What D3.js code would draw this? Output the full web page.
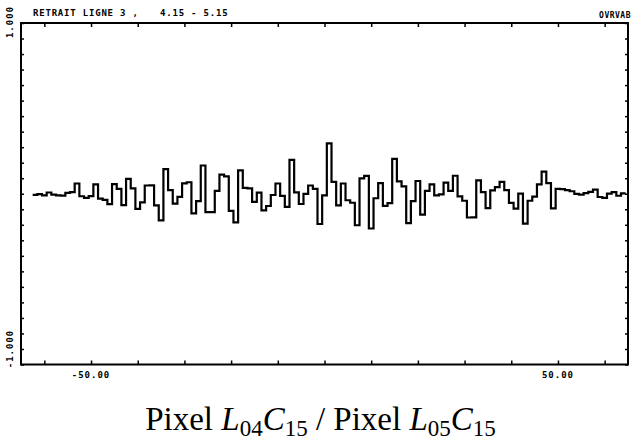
<!DOCTYPE html>
<html><head><meta charset="utf-8">
<script src="https://cdn.jsdelivr.net/npm/d3@7"></script>
<style>
body{margin:0;background:#fff}
.plot{font-family:"DejaVu Sans Mono",monospace;font-weight:bold}
</style>
</head><body>
<svg id="c" width="634" height="443"></svg>
<script>
// ---- data ----
const titleLeft = "RETRAIT LIGNE 3 ,";
const titleRight = "4.15 - 5.15";
const tag = "OVRVAB";
const xStart = -62;              // first sample position
const values = [
 -0.007,-0.003,-0.011, 0.008,-0.006,-0.010,-0.012, 0.005, 0.010, 0.066,
 -0.016,-0.026,-0.015, 0.061,-0.032,-0.040,-0.067, 0.062, 0.032,-0.073,
  0.096, 0.035,-0.098,-0.055, 0.053, 0.054,-0.075,-0.172, 0.158, 0.023,
 -0.063,-0.020, 0.067, 0.074,-0.127,-0.047, 0.182,-0.119,-0.119, 0.019,
  0.123, 0.112,-0.110,-0.185, 0.150, 0.038, 0.034,-0.052, 0.007,-0.107,
 -0.079,-0.008, 0.066,-0.014,-0.085, 0.218, 0.009,-0.066,-0.001, 0.053,
  0.032,-0.195,-0.011, 0.324, 0.076,-0.075, 0.066,-0.042,-0.058,-0.203,
  0.099, 0.115,-0.224,-0.029, 0.068,-0.078,-0.061, 0.225, 0.080, 0.048,
 -0.189,-0.048, 0.082,-0.134, 0.018, 0.061,-0.010,-0.004, 0.072, 0.019,
  0.116,-0.017,-0.045,-0.153,-0.152, 0.086, 0.010,-0.093, 0.022, 0.043,
  0.076, 0.023,-0.059,-0.096, 0.001,-0.192,-0.045,-0.019, 0.061, 0.143,
  0.068,-0.094, 0.032, 0.030, 0.024, 0.016,-0.001,-0.005, 0.004, 0.012,
  0.026,-0.021,-0.026, 0.001, 0.010,-0.013, 0.002
];
const xDomain = [-65, 65];
const yDomain = [-1.1, 1.1];
const xTickValues = [-60,-50,-40,-30,-20,-10,0,10,20,30,40,50,60];
const xTickLabels = [-50, 50];
const yTickLabels = ["1.000", "-1.000"];

// ---- chart ----
const svg = d3.select("#c");
const g = svg.append("g").attr("class","plot");
const m = {l:21, r:628, t:23, b:364.5};
const x = d3.scaleLinear().domain(xDomain).range([m.l, m.r]);
const y = d3.scaleLinear().domain(yDomain).range([m.b, m.t]);
const yTicks = d3.range(-11, 12).map(i => i/10);

function clean(sel){ sel.select(".domain").remove(); sel.selectAll(".tick line").attr("stroke","#000").attr("stroke-width",1.5); }

g.append("g").attr("transform",`translate(0,${m.b})`)
  .call(d3.axisTop(x).tickValues(xTickValues).tickSize(4).tickFormat("")).call(clean);
g.append("g").attr("transform",`translate(0,${m.t})`)
  .call(d3.axisBottom(x).tickValues(xTickValues).tickSize(4).tickFormat("")).call(clean);
g.append("g").attr("transform",`translate(${m.l},0)`)
  .call(d3.axisRight(y).tickValues(yTicks).tickSize(3).tickFormat("")).call(clean);
g.append("g").attr("transform",`translate(${m.r},0)`)
  .call(d3.axisLeft(y).tickValues(yTicks).tickSize(3).tickFormat("")).call(clean);

g.append("rect").attr("x",m.l).attr("y",m.t).attr("width",m.r-m.l).attr("height",m.b-m.t)
  .attr("fill","none").attr("stroke","#000").attr("stroke-width",2);

// step line: each sample is a one-unit wide step
const pts = values.map((v,i) => [xStart + i - 0.5, v]);
pts.push([xStart + values.length - 0.5, values[values.length-1]]);
g.append("path").datum(pts)
  .attr("d", d3.line().x(d => x(d[0])).y(d => y(d[1])).curve(d3.curveStepAfter))
  .attr("fill","none").attr("stroke","#000").attr("stroke-width",2.2).attr("stroke-linejoin","miter");

// x labels
g.selectAll(".xl").data(xTickLabels).join("text").attr("class","xl")
  .attr("x", d => x(d)).attr("y", 378).attr("text-anchor","middle")
  .attr("font-size", 9).attr("letter-spacing", 1)
  .text(d => d.toFixed(2));

// y labels (rotated)
g.selectAll(".yl").data(yTickLabels).join("text").attr("class","yl")
  .attr("transform", (d,i) => `translate(13,${i===0 ? 22 : y(-1)}) rotate(-90)`)
  .attr("text-anchor","middle").attr("font-size", 9).attr("letter-spacing", 1)
  .text(d => d);

// header texts
g.append("text").attr("x",33).attr("y",16).attr("font-size",9).attr("letter-spacing",0.8).text(titleLeft);
g.append("text").attr("x",160).attr("y",16).attr("font-size",9).attr("letter-spacing",0.8).text(titleRight);
g.append("text").attr("x",631).attr("y",18).attr("text-anchor","end").attr("font-size",8).attr("letter-spacing",0.5).text(tag);

// caption
const cap = svg.append("text").attr("x",320.5).attr("y",430).attr("text-anchor","middle")
  .attr("font-family","'Liberation Serif', serif").attr("font-size",33).attr("fill","#000");
const parts = [
  ["Pixel ", false, false], ["L", true, false], ["04", false, true], ["C", true, false], ["15", false, true],
  [" / Pixel ", false, false], ["L", true, false], ["05", false, true], ["C", true, false], ["15", false, true]
];
let shifted = false;
parts.forEach(([t, it, sub]) => {
  const ts = cap.append("tspan").text(t);
  if (it) ts.attr("font-style","italic");
  if (sub) { ts.attr("font-size",23).attr("dy", shifted ? 0 : 6); shifted = true; }
  else { ts.attr("dy", shifted ? -6 : 0); shifted = false; }
});
</script>
</body></html>
